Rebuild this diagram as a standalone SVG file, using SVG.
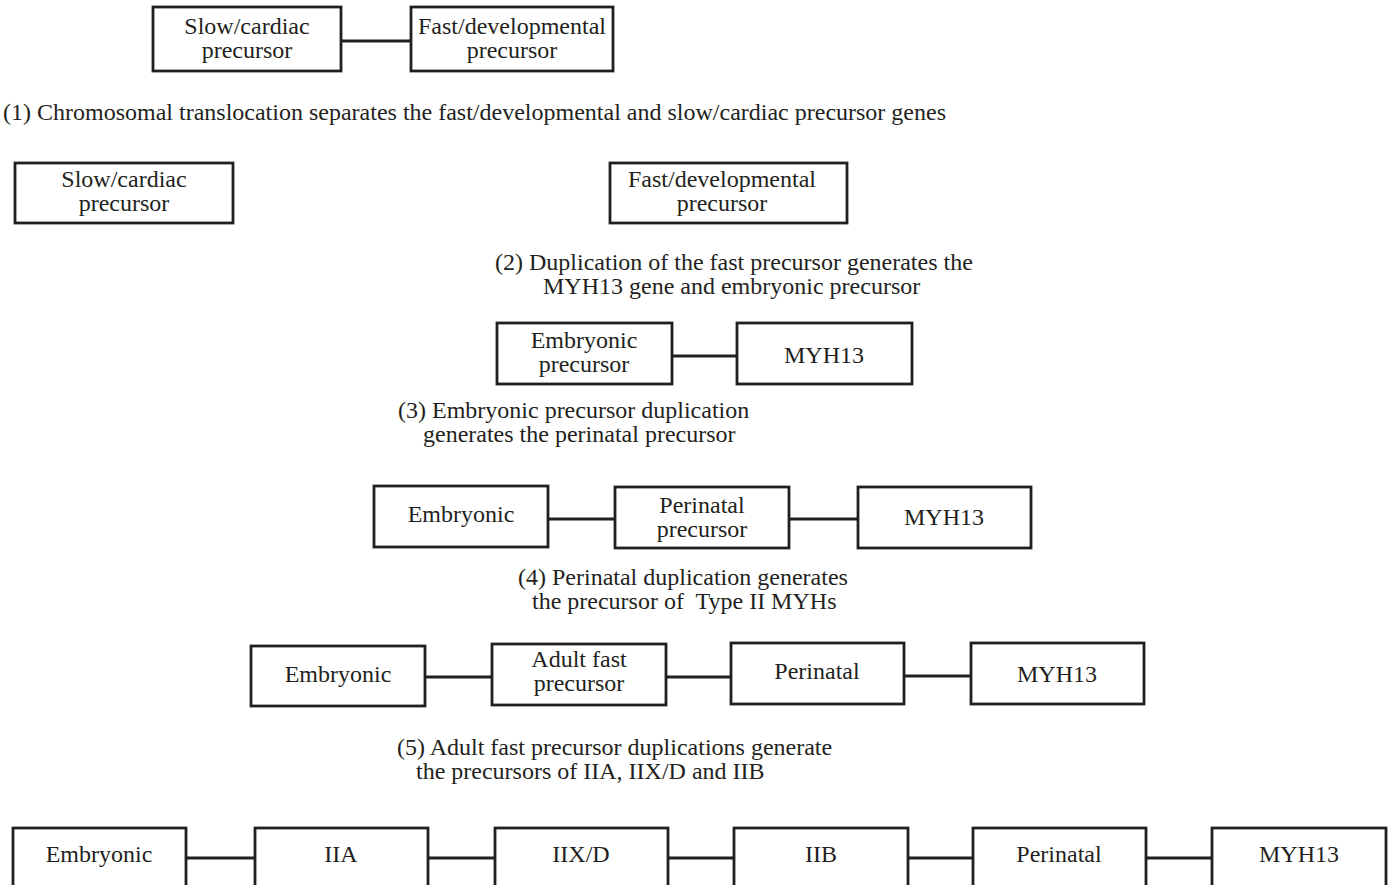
<svg xmlns="http://www.w3.org/2000/svg" width="1390" height="885" viewBox="0 0 1390 885">
<style>
.box{fill:#fff;stroke:#231f20;stroke-width:2.8}
.lbl{font-family:"Liberation Serif","Times New Roman",serif;font-size:24px;fill:#231f20;text-anchor:middle}
.cap{font-family:"Liberation Serif","Times New Roman",serif;font-size:24px;fill:#231f20}
.con{stroke:#231f20;stroke-width:3;fill:none}
</style>
<rect width="1390" height="885" fill="#fff"/>
<g id="connectors">
<line class="con" x1="341" y1="41" x2="411" y2="41"/>
<line class="con" x1="672" y1="356" x2="737" y2="356"/>
<line class="con" x1="548" y1="519" x2="615" y2="519"/>
<line class="con" x1="789" y1="519" x2="858" y2="519"/>
<line class="con" x1="425" y1="677" x2="492" y2="677"/>
<line class="con" x1="666" y1="677" x2="731" y2="677"/>
<line class="con" x1="904" y1="676" x2="971" y2="676"/>
<line class="con" x1="186" y1="858" x2="255" y2="858"/>
<line class="con" x1="428" y1="858" x2="495" y2="858"/>
<line class="con" x1="668" y1="858" x2="734" y2="858"/>
<line class="con" x1="908" y1="858" x2="973" y2="858"/>
<line class="con" x1="1146" y1="858" x2="1212" y2="858"/>
</g>
<g id="captions">
<text class="cap" x="3" y="120">(1) Chromosomal translocation separates the fast/developmental and slow/cardiac precursor genes</text>
<text class="cap" x="495" y="270">(2) Duplication of the fast precursor generates the</text>
<text class="cap" x="543" y="294">MYH13 gene and embryonic precursor</text>
<text class="cap" x="398" y="418">(3) Embryonic precursor duplication</text>
<text class="cap" x="423" y="442">generates the perinatal precursor</text>
<text class="cap" x="518" y="585">(4) Perinatal duplication generates</text>
<text class="cap" x="532" y="609" xml:space="preserve">the precursor of  Type II MYHs</text>
<text class="cap" x="397" y="755">(5) Adult fast precursor duplications generate</text>
<text class="cap" x="416" y="779">the precursors of IIA, IIX/D and IIB</text>
</g>
<g id="n0a"><rect class="box" x="153" y="7" width="188" height="64"/><text class="lbl" x="247" y="34">Slow/cardiac</text><text class="lbl" x="247" y="58">precursor</text></g>
<g id="n0b"><rect class="box" x="411" y="7" width="202" height="64"/><text class="lbl" x="512" y="34">Fast/developmental</text><text class="lbl" x="512" y="58">precursor</text></g>
<g id="n1a"><rect class="box" x="15" y="163" width="218" height="60"/><text class="lbl" x="124" y="187">Slow/cardiac</text><text class="lbl" x="124" y="211">precursor</text></g>
<g id="n1b"><rect class="box" x="610" y="163" width="237" height="60"/><text class="lbl" x="722" y="187">Fast/developmental</text><text class="lbl" x="722" y="211">precursor</text></g>
<g id="n2a"><rect class="box" x="497" y="323" width="175" height="61"/><text class="lbl" x="584" y="348">Embryonic</text><text class="lbl" x="584" y="372">precursor</text></g>
<g id="n2b"><rect class="box" x="737" y="323" width="175" height="61"/><text class="lbl" x="824" y="363">MYH13</text></g>
<g id="n3a"><rect class="box" x="374" y="486" width="174" height="61"/><text class="lbl" x="461" y="522">Embryonic</text></g>
<g id="n3b"><rect class="box" x="615" y="487" width="174" height="61"/><text class="lbl" x="702" y="513">Perinatal</text><text class="lbl" x="702" y="537">precursor</text></g>
<g id="n3c"><rect class="box" x="858" y="487" width="173" height="61"/><text class="lbl" x="944" y="525">MYH13</text></g>
<g id="n4a"><rect class="box" x="251" y="646" width="174" height="60"/><text class="lbl" x="338" y="682">Embryonic</text></g>
<g id="n4b"><rect class="box" x="492" y="644" width="174" height="61"/><text class="lbl" x="579" y="667">Adult fast</text><text class="lbl" x="579" y="691">precursor</text></g>
<g id="n4c"><rect class="box" x="731" y="643" width="173" height="61"/><text class="lbl" x="817" y="679">Perinatal</text></g>
<g id="n4d"><rect class="box" x="971" y="643" width="173" height="61"/><text class="lbl" x="1057" y="682">MYH13</text></g>
<g id="n5a"><rect class="box" x="13" y="828" width="173" height="80"/><text class="lbl" x="99" y="862">Embryonic</text></g>
<g id="n5b"><rect class="box" x="255" y="828" width="173" height="80"/><text class="lbl" x="341" y="862">IIA</text></g>
<g id="n5c"><rect class="box" x="495" y="828" width="173" height="80"/><text class="lbl" x="581" y="862">IIX/D</text></g>
<g id="n5d"><rect class="box" x="734" y="828" width="174" height="80"/><text class="lbl" x="821" y="862">IIB</text></g>
<g id="n5e"><rect class="box" x="973" y="828" width="173" height="80"/><text class="lbl" x="1059" y="862">Perinatal</text></g>
<g id="n5f"><rect class="box" x="1212" y="828" width="174" height="80"/><text class="lbl" x="1299" y="862">MYH13</text></g>
</svg>
